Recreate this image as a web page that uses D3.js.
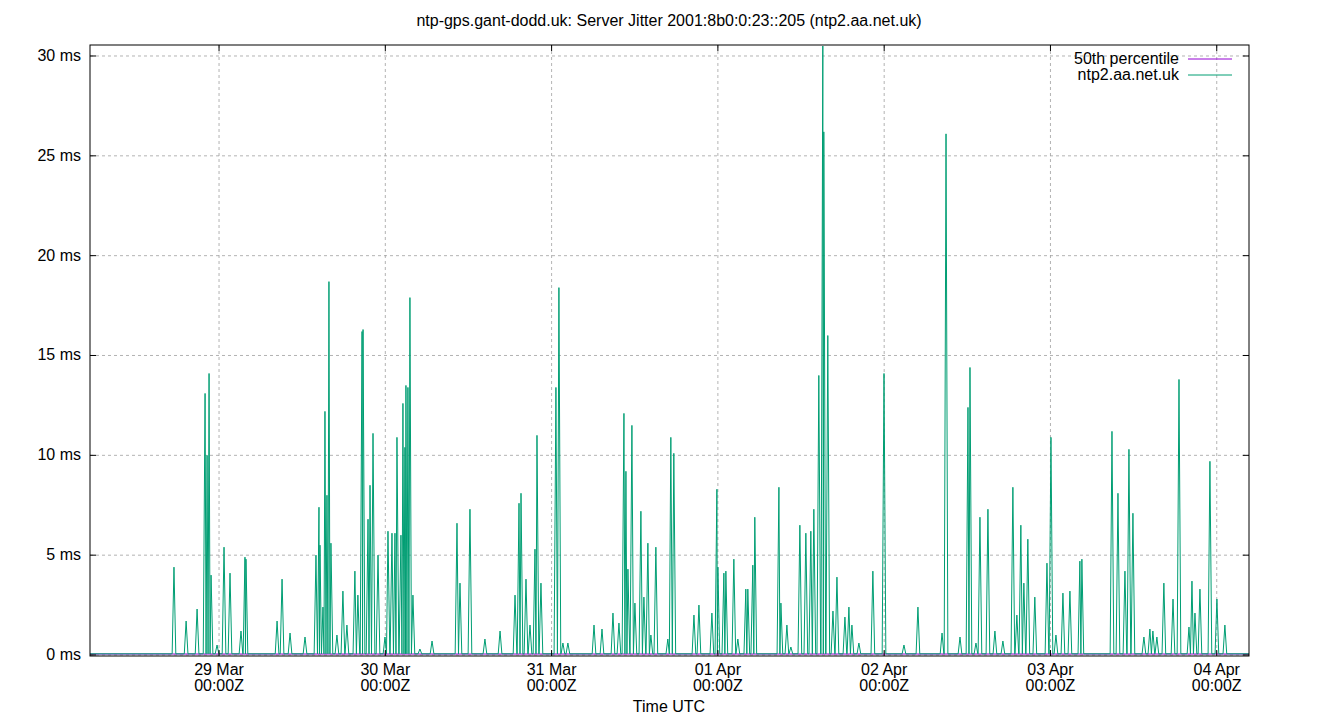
<!DOCTYPE html><html><head><meta charset="utf-8"><script src="https://cdn.jsdelivr.net/npm/d3@7"></script>
<style>body{margin:0;background:#fff}</style></head><body><svg id="c" width="1340" height="720"></svg>
<script>
// time in days since 28 Mar 00:00Z, jitter peak in ms
const peakDays=[0.729,0.802,0.868,0.916,0.928,0.940,0.952,0.988,1.030,1.066,1.132,1.156,1.162,1.349,1.379,1.427,1.517,1.583,1.601,1.607,1.625,1.637,1.649,1.661,1.673,1.709,1.745,1.769,1.817,1.835,1.860,1.866,1.896,1.908,1.926,1.956,1.998,2.016,2.040,2.058,2.070,2.094,2.106,2.118,2.124,2.136,2.148,2.166,2.208,2.281,2.431,2.449,2.509,2.599,2.690,2.780,2.804,2.816,2.846,2.870,2.900,2.912,2.936,3.026,3.044,3.068,3.098,3.255,3.303,3.369,3.405,3.435,3.447,3.459,3.483,3.501,3.537,3.555,3.579,3.597,3.627,3.699,3.717,3.735,3.856,3.886,3.964,3.994,4.000,4.036,4.048,4.096,4.120,4.168,4.180,4.210,4.222,4.367,4.379,4.415,4.439,4.493,4.529,4.559,4.577,4.607,4.631,4.637,4.661,4.692,4.716,4.764,4.788,4.806,4.848,4.932,4.999,5.119,5.203,5.348,5.372,5.456,5.504,5.516,5.552,5.576,5.624,5.666,5.714,5.774,5.798,5.822,5.840,5.864,5.906,5.979,6.003,6.033,6.075,6.117,6.177,6.189,6.370,6.406,6.448,6.472,6.496,6.562,6.598,6.616,6.640,6.682,6.737,6.773,6.833,6.851,6.869,6.899,6.959,7.001,7.049];
const peakMs=[4.4,1.7,2.3,13.1,10,14.1,4,0.5,5.4,4.1,1.2,4.9,4.8,1.7,3.8,1.1,0.9,5,7.4,5.5,2.4,12.2,8,18.7,5.6,1,3.2,1.5,4.2,3,16.2,16.3,6.8,8.5,11.1,5,0.9,6.2,6.1,6.1,10.9,6,12.6,10.4,13.5,13.4,17.9,3,0.3,0.7,6.6,3.6,7.3,0.8,1.2,3,7.6,8.1,3.8,1.5,5.3,11,3.6,13.4,18.4,0.6,0.6,1.5,1.3,2.1,1.6,12.1,9.2,4.3,11.5,2.6,7.2,2.9,5.6,1,5.4,0.8,10.9,10.1,2,2.5,2.1,8.3,4.4,4.1,4.2,4.8,0.8,3.3,3.3,4.5,6.9,8.4,2.6,1.5,0.4,6.5,6.1,6.2,7.3,14,30.5,26.2,16,2.2,3.9,1.9,2.4,1.5,0.6,4.2,14.1,0.5,2.4,1.1,26.1,0.9,12.4,14.4,0.6,6.9,7.3,1.2,0.7,8.4,2,6.5,3.6,5.8,2.9,4.6,10.9,1,3.1,3.2,4.7,4.8,11.2,8.1,4.2,10.3,7.1,0.9,1.3,1.2,0.9,3.6,2.8,13.8,1.4,3.7,2.1,3.3,9.7,2.8,1.5];
const baseMs=0.06, p50Ms=0.05;
const domainDays=[0.224,7.194];
const yTicks=[0,5,10,15,20,25,30];
const xTickDays=[1,2,3,4,5,6,7];
const xTickLabels=["29 Mar","30 Mar","31 Mar","01 Apr","02 Apr","03 Apr","04 Apr"];

const svg=d3.select("#c"),L=90,R=1249,T=45,B=656;
const x=d3.scaleLinear().domain(domainDays).range([L,R]);
const y=d3.scaleLinear().domain([0,30.05]).range([655,55]);
const F="Liberation Sans, Arial, sans-serif";
const g=svg.append("g");
yTicks.forEach(v=>{g.append("line").attr("x1",L).attr("x2",R).attr("y1",y(v)).attr("y2",y(v)).attr("stroke","#a0a0a0").attr("stroke-dasharray","3,3").attr("stroke-width",0.8);});
xTickDays.forEach(v=>{g.append("line").attr("x1",x(v)).attr("x2",x(v)).attr("y1",T).attr("y2",B).attr("stroke","#a0a0a0").attr("stroke-dasharray","3,3").attr("stroke-width",0.8);});
// spikes: each peak sampled between baseline readings
const half=0.011;
const pts=[[domainDays[0],baseMs]];
peakDays.forEach((d,i)=>{
  const prev=i>0?peakDays[i-1]:-1, next=i<peakDays.length-1?peakDays[i+1]:99;
  const a=Math.max(d-half,(prev+d)/2), b=Math.min(d+half,(d+next)/2);
  pts.push([a,baseMs],[d,peakMs[i]],[b,baseMs]);
});
pts.push([domainDays[1],baseMs]);
const line=d3.line().x(d=>x(d[0])).y(d=>y(d[1]));
g.append("path").attr("d",line(domainDays.map(d=>[d,p50Ms]))).attr("stroke","#9400d3").attr("fill","none");
g.append("path").attr("d",line(pts)).attr("stroke","#009e73").attr("fill","none").attr("stroke-width",1).attr("stroke-linejoin","round");
g.append("rect").attr("x",L).attr("y",T).attr("width",R-L).attr("height",B-T).attr("fill","none").attr("stroke","#000");
yTicks.forEach(v=>{
 g.append("line").attr("x1",L).attr("x2",L+6).attr("y1",y(v)).attr("y2",y(v)).attr("stroke","#000");
 g.append("line").attr("x1",R).attr("x2",R-6).attr("y1",y(v)).attr("y2",y(v)).attr("stroke","#000");
 g.append("text").attr("x",L-9).attr("y",y(v)+5).attr("text-anchor","end").attr("font-family",F).attr("font-size",16).text(v+" ms");
});
xTickDays.forEach((v,i)=>{
 g.append("line").attr("x1",x(v)).attr("x2",x(v)).attr("y1",B).attr("y2",B-6).attr("stroke","#000");
 g.append("line").attr("x1",x(v)).attr("x2",x(v)).attr("y1",T).attr("y2",T+6).attr("stroke","#000");
 g.append("text").attr("x",x(v)).attr("y",675).attr("text-anchor","middle").attr("font-family",F).attr("font-size",16).text(xTickLabels[i]);
 g.append("text").attr("x",x(v)).attr("y",691).attr("text-anchor","middle").attr("font-family",F).attr("font-size",16).text("00:00Z");
});
svg.append("text").attr("x",669).attr("y",26).attr("text-anchor","middle").attr("font-family",F).attr("font-size",16).text("ntp-gps.gant-dodd.uk: Server Jitter 2001:8b0:0:23::205 (ntp2.aa.net.uk)");
svg.append("text").attr("x",669).attr("y",712).attr("text-anchor","middle").attr("font-family",F).attr("font-size",16).text("Time UTC");
[["50th percentile","#9400d3",63],["ntp2.aa.net.uk","#009e73",79]].forEach(d=>{
 svg.append("text").attr("x",1179).attr("y",d[2]+1).attr("text-anchor","end").attr("font-family",F).attr("font-size",16).text(d[0]);
 svg.append("line").attr("x1",1188).attr("x2",1232).attr("y1",d[2]-4).attr("y2",d[2]-4).attr("stroke",d[1]);
});
</script></body></html>
